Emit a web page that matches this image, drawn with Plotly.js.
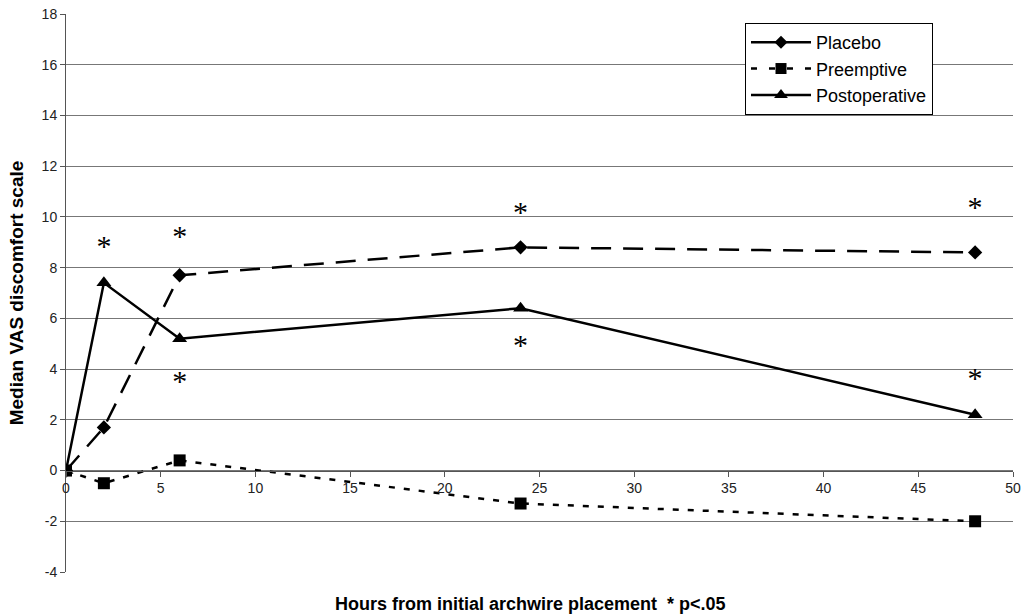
<!DOCTYPE html>
<html><head><meta charset="utf-8">
<script src="https://cdn.plot.ly/plotly-3.0.1.min.js"></script>
<style>body{margin:0;background:#fff}#c{width:1022px;height:614px}</style>
</head><body><div id="c"></div>
<script>
const hours = [0, 2, 6, 24, 48];
const placebo = [0, 1.7, 7.7, 8.8, 8.6];
const preemptive = [0, -0.5, 0.4, -1.3, -2.0];
const postoperative = [0, 7.4, 5.2, 6.4, 2.2];
const starX = [2, 6, 6, 24, 24, 48, 48];
const starY = [8.75, 9.15, 3.45, 10.1, 4.85, 10.3, 3.55];
const yTicks = [-4, -2, 0, 2, 4, 6, 8, 10, 12, 14, 16, 18];
const xTicks = [0, 5, 10, 15, 20, 25, 30, 35, 40, 45, 50];

const traces = [
  {x: hours, y: placebo, mode: 'lines+markers', showlegend: false,
   line: {color: '#000', width: 2.5, dash: '20px,12px'},
   marker: {symbol: 'diamond', size: 11, color: '#000'}},
  {x: hours, y: preemptive, mode: 'lines+markers', showlegend: false,
   line: {color: '#000', width: 2.5, dash: '6px,9px'},
   marker: {symbol: 'square', size: 12, color: '#000'}},
  {x: hours, y: postoperative, mode: 'lines+markers', showlegend: false,
   line: {color: '#000', width: 2.5},
   marker: {symbol: 'triangle-up', size: 13, color: '#000'}},
  {x: starX, y: starY, mode: 'text', text: starX.map(() => '*'), showlegend: false,
   textfont: {family: 'Liberation Serif, serif', size: 30, color: '#000'}, hoverinfo: 'skip'},
  // legend entries
  {x: [null], y: [null], mode: 'lines+markers', name: 'Placebo',
   line: {color: '#000', width: 2.5}, marker: {symbol: 'diamond', size: 10, color: '#000'}},
  {x: [null], y: [null], mode: 'lines+markers', name: 'Preemptive',
   line: {color: '#000', width: 2.5, dash: '6px,12px'}, marker: {symbol: 'square', size: 11, color: '#000'}},
  {x: [null], y: [null], mode: 'lines+markers', name: 'Postoperative',
   line: {color: '#000', width: 2.5}, marker: {symbol: 'triangle-up', size: 12, color: '#000'}}
];

const layout = {
  width: 1022, height: 614,
  margin: {l: 66, r: 9, t: 14, b: 42},
  paper_bgcolor: '#fff', plot_bgcolor: '#fff',
  font: {family: 'Liberation Sans, Arial, sans-serif', color: '#000'},
  showlegend: true,
  legend: {x: 0.717, y: 0.984, xanchor: 'left', yanchor: 'top',
    bgcolor: '#fff', bordercolor: '#000', borderwidth: 1, itemwidth: 60,
    font: {size: 18, family: 'Liberation Sans, Arial, sans-serif'}, tracegroupgap: 0},
  xaxis: {range: [0, 50], tickvals: xTicks, ticktext: xTicks.map(String),
    anchor: 'free', position: 4/22, showline: true, linecolor: '#555', linewidth: 1,
    ticks: 'outside', ticklen: 5, tickcolor: '#555', showgrid: false, zeroline: false,
    tickfont: {size: 14, color: '#222'}},
  yaxis: {range: [-4, 18], tickvals: yTicks, ticktext: yTicks.map(String),
    showline: true, linecolor: '#555', linewidth: 1, ticks: 'outside', ticklen: 5, tickcolor: '#555',
    showgrid: true, gridcolor: '#777', gridwidth: 1, zeroline: false,
    tickfont: {size: 14, color: '#222'},
    title: {text: 'Median VAS discomfort scale', standoff: 12,
      font: {size: 19, family: 'Liberation Sans, Arial, sans-serif', weight: 'bold'}}},
  annotations: [{xref: 'paper', yref: 'paper', x: 0.49, y: -0.0565, xanchor: 'center', yanchor: 'middle',
    showarrow: false, text: 'Hours from initial archwire placement  * p<.05',
    font: {size: 18, family: 'Liberation Sans, Arial, sans-serif', weight: 'bold', color: '#000'}}]
};

Plotly.newPlot('c', traces, layout, {displayModeBar: false, staticPlot: true});
</script></body></html>
